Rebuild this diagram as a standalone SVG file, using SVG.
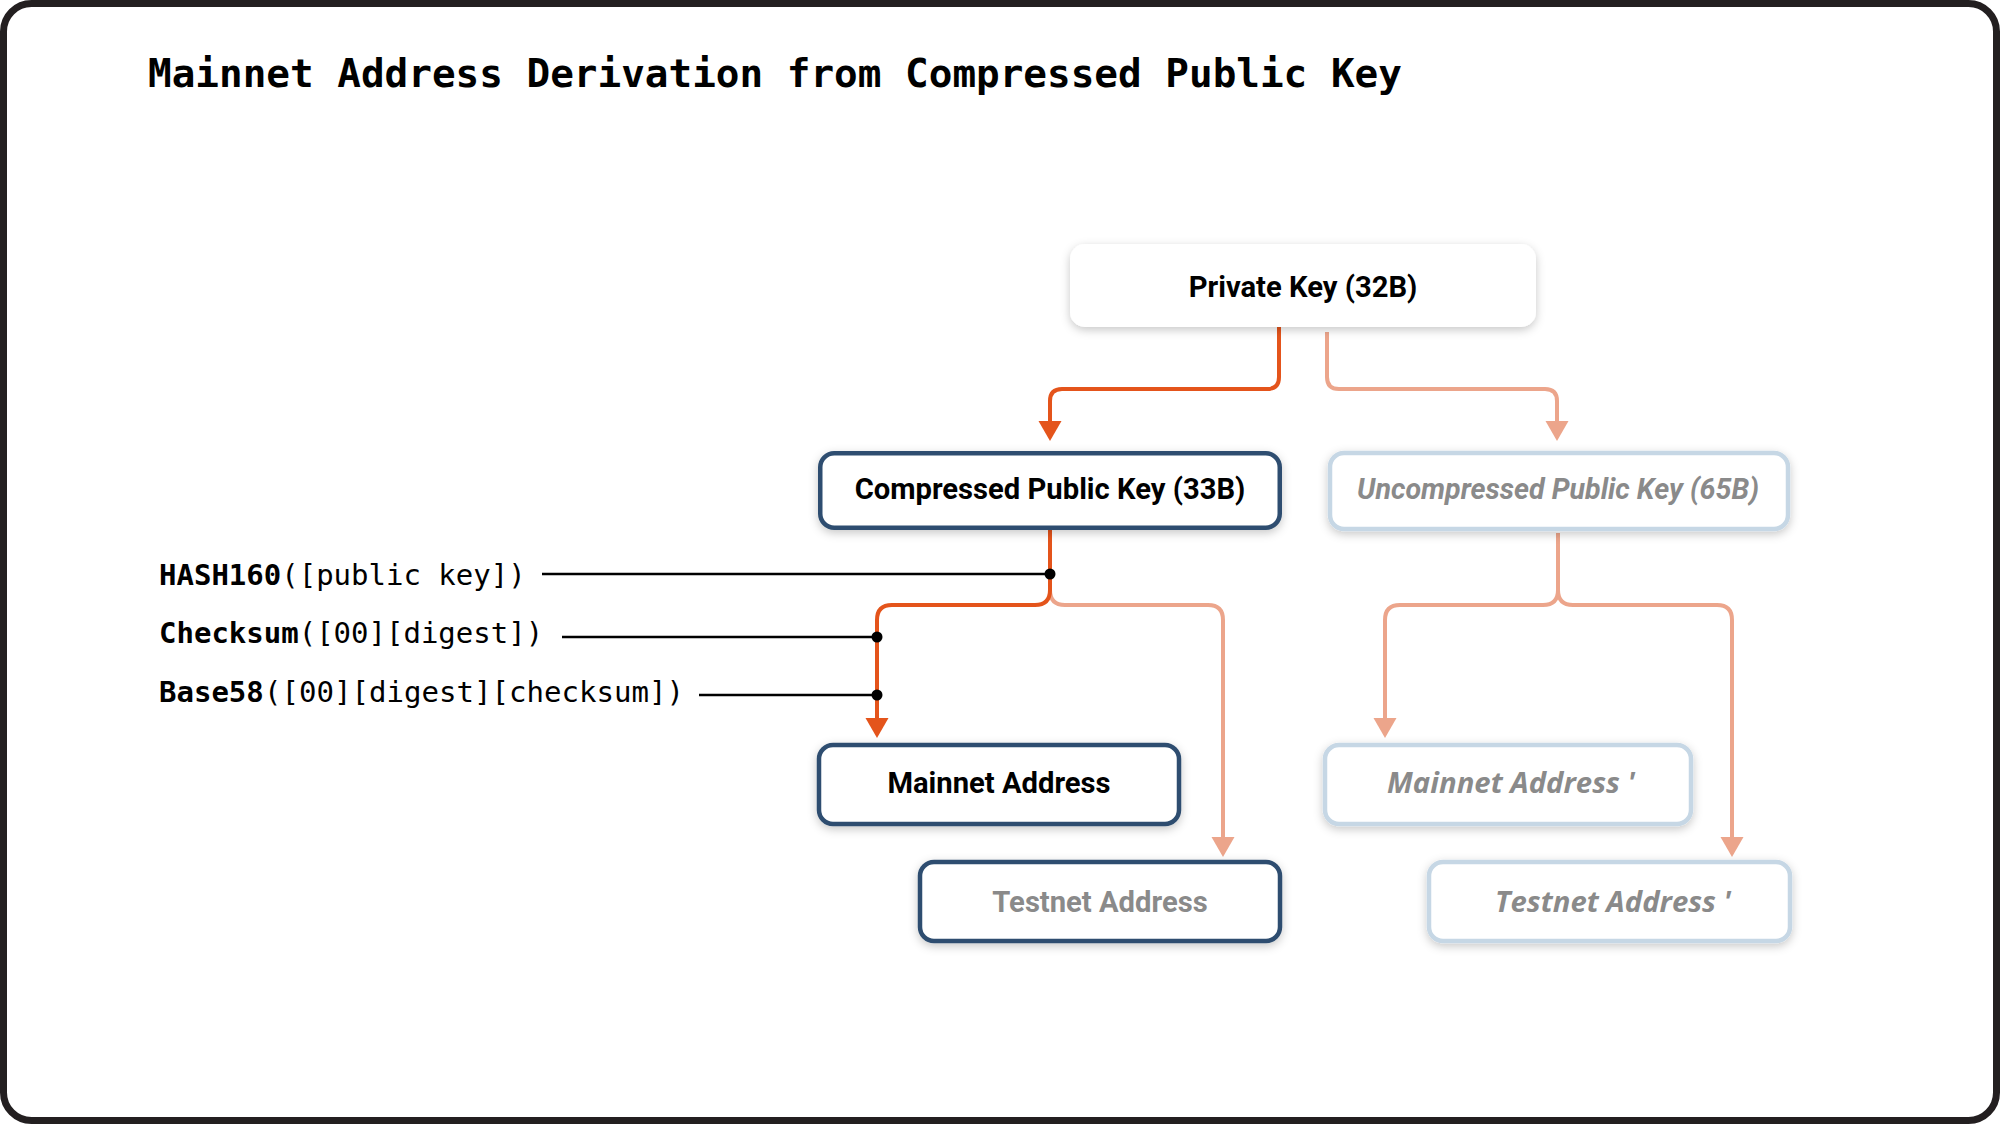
<svg xmlns="http://www.w3.org/2000/svg" width="2000" height="1124" viewBox="0 0 2000 1124">
<defs>
<filter id="sh" x="-20%" y="-40%" width="140%" height="180%">
<feDropShadow dx="0" dy="3" stdDeviation="5" flood-color="#000" flood-opacity="0.22"/>
</filter>
<marker id="ad" markerUnits="userSpaceOnUse" markerWidth="24" markerHeight="24" refX="0" refY="0" viewBox="0 -12 21 24" orient="auto">
<path d="M0,-11.5 L20,0 L0,11.5 z" fill="#e4541b"/>
</marker>
<marker id="al" markerUnits="userSpaceOnUse" markerWidth="24" markerHeight="24" refX="0" refY="0" viewBox="0 -12 21 24" orient="auto">
<path d="M0,-11.5 L20,0 L0,11.5 z" fill="#eca58b"/>
</marker>
</defs>
<style>
.frame{fill:#fff;stroke:#231f20;stroke-width:7}
.title{font-family:"DejaVu Sans Mono","Liberation Mono",monospace;font-weight:bold;font-size:39.3px;fill:#000}
.box{fill:#fff;filter:url(#sh)}
.dark{stroke:#2e4e70;stroke-width:4.5}
.light{stroke:#c6d7e5;stroke-width:4.5}
.nt{font-family:Roboto,"Liberation Sans",sans-serif;font-weight:bold;font-size:29.2px;text-anchor:middle;fill:#000}
.gray{fill:#8a8a8a}
.it{font-style:italic}
.uc{font-size:28.6px}
.os{font-family:"Open Sans","Liberation Sans",sans-serif;font-size:29.3px}
.cd{fill:none;stroke:#e4541b;stroke-width:4}
.cl{fill:none;stroke:#eca58b;stroke-width:4}
.ll{stroke:#000;stroke-width:2.5}
.lb{font-family:"DejaVu Sans Mono","Liberation Mono",monospace;font-size:29px;fill:#000}
.b{font-weight:bold}
</style>
<rect class="frame" x="3.5" y="3.5" width="1993" height="1117" rx="28"/>
<text class="title" x="148" y="87">Mainnet Address Derivation from Compressed Public Key</text>

<g id="connectors">
<path class="cl" d="M1327,332 V377 Q1327,389 1339,389 H1545 Q1557,389 1557,401 V421" marker-end="url(#al)"/>
<path class="cd" d="M1279,327 V377 Q1279,389 1267,389 H1062 Q1050,389 1050,401 V421" marker-end="url(#ad)"/>
<path class="cl" d="M1050,590 Q1050,605 1065,605 H1208 Q1223,605 1223,620 V837" marker-end="url(#al)"/>
<path class="cd" d="M1050,530 V590 Q1050,605 1035,605 H892 Q877,605 877,620 V718" marker-end="url(#ad)"/>
<path class="cl" d="M1558,533 V590 Q1558,605 1543,605 H1400 Q1385,605 1385,620 V718" marker-end="url(#al)"/>
<path class="cl" d="M1558,590 Q1558,605 1573,605 H1717 Q1732,605 1732,620 V837" marker-end="url(#al)"/>
<line class="ll" x1="542" y1="574" x2="1050" y2="574"/>
<line class="ll" x1="562" y1="637" x2="877" y2="637"/>
<line class="ll" x1="699" y1="695" x2="877" y2="695"/>
<circle cx="1050" cy="574" r="5.5" fill="#000"/>
<circle cx="877" cy="637" r="5.5" fill="#000"/>
<circle cx="877" cy="695" r="5.5" fill="#000"/>
</g>

<g id="labels">
<text class="lb" y="585"><tspan class="b" x="159">HASH160</tspan><tspan>([public key])</tspan></text>
<text class="lb" y="643"><tspan class="b" x="159">Checksum</tspan><tspan>([00][digest])</tspan></text>
<text class="lb b" x="159" y="702">Base58</text>
<text class="lb" x="264" y="702" textLength="420" lengthAdjust="spacingAndGlyphs">([00][digest][checksum])</text>
</g>

<g id="private-key">
<rect class="box" x="1070" y="244" width="466" height="83" rx="15"/>
<text class="nt" x="1303" y="297">Private Key (32B)</text>
</g>
<g id="compressed-public-key">
<rect class="box dark" x="820.25" y="453.25" width="459.5" height="74.5" rx="14"/>
<text class="nt" x="1050" y="499">Compressed Public Key (33B)</text>
</g>
<g id="uncompressed-public-key">
<rect class="box light" x="1330" y="453" width="458" height="76" rx="14"/>
<text class="nt gray it uc" x="1558" y="499">Uncompressed Public Key (65B)</text>
</g>
<g id="mainnet-address">
<rect class="box dark" x="819" y="745" width="360" height="79" rx="14"/>
<text class="nt" x="999" y="793">Mainnet Address</text>
</g>
<g id="testnet-address">
<rect class="box dark" x="920" y="862" width="360" height="79" rx="14"/>
<text class="nt gray" x="1100" y="912">Testnet Address</text>
</g>
<g id="mainnet-address-prime">
<rect class="box light" x="1325" y="745" width="366" height="79" rx="14"/>
<text class="nt gray it os" x="1511" y="793">Mainnet Address '</text>
</g>
<g id="testnet-address-prime">
<rect class="box light" x="1429" y="862" width="361" height="79" rx="14"/>
<text class="nt gray it os" x="1613" y="912">Testnet Address '</text>
</g>
</svg>
